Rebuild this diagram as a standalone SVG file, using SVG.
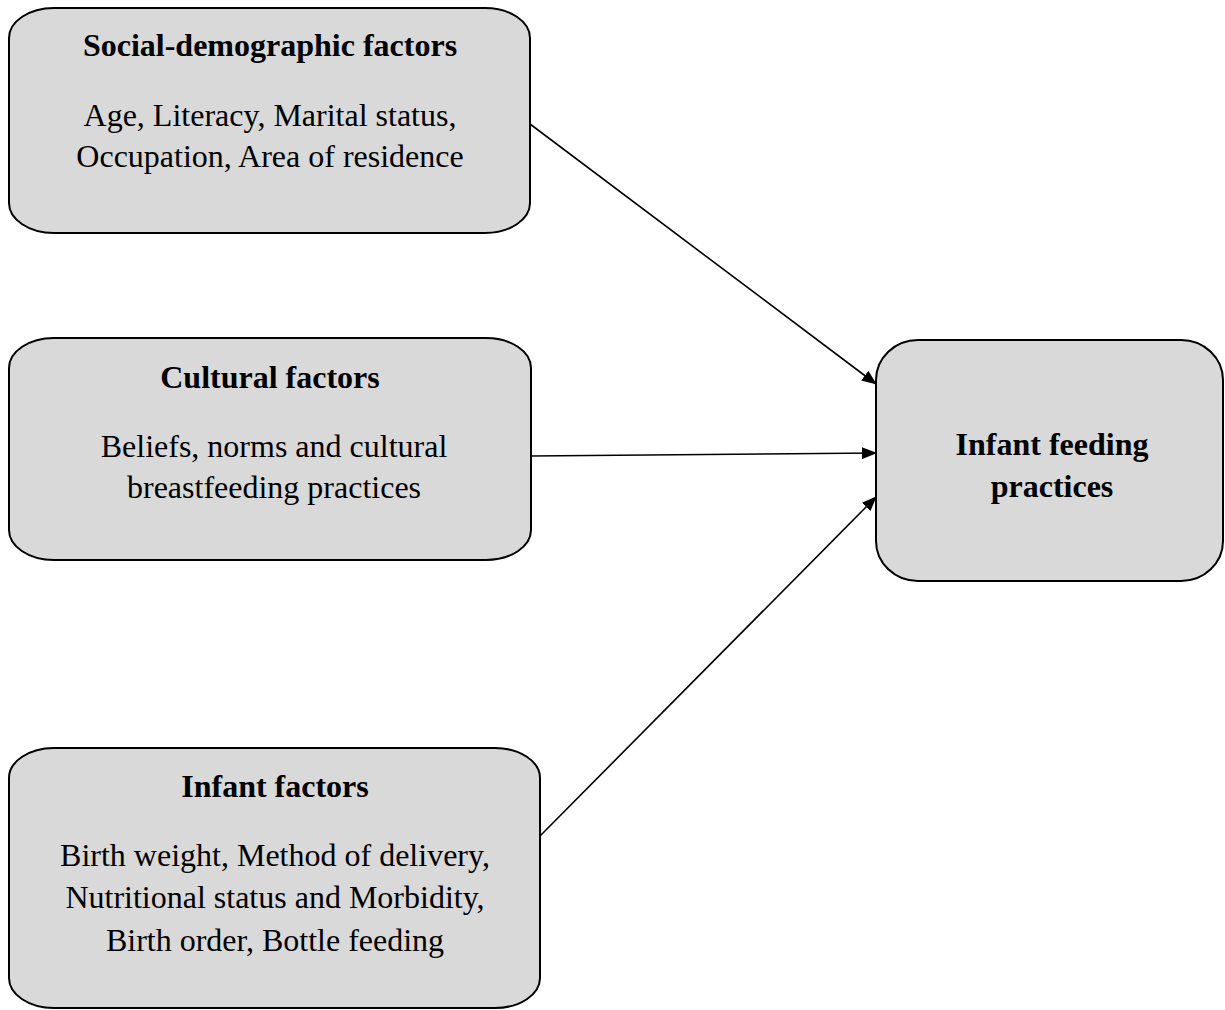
<svg xmlns="http://www.w3.org/2000/svg" width="1225" height="1010" viewBox="0 0 1225 1010">
<style>
.box{fill:#d9d9d9;stroke:#000;stroke-width:2}
.t{font-family:"Liberation Serif","Times New Roman",serif;font-size:32px;fill:#000;text-anchor:middle}
.b{font-weight:bold}
.c{stroke:#000;stroke-width:1.6;fill:none}
</style>
<defs>
<marker id="ah" markerWidth="15" markerHeight="12" refX="14" refY="6" orient="auto" markerUnits="userSpaceOnUse">
<path d="M0,0 L15,6 L0,12 Z" fill="#000"/>
</marker>
</defs>
<g id="connectors">
<line class="c" x1="530" y1="124" x2="876" y2="384" marker-end="url(#ah)"/>
<line class="c" x1="531" y1="456" x2="876" y2="453" marker-end="url(#ah)"/>
<line class="c" x1="540" y1="836" x2="876" y2="497" marker-end="url(#ah)"/>
</g>
<g id="social">
<rect class="box" x="9" y="8" width="521" height="225" rx="45" ry="30"/>
<text class="t b" x="270" y="56">Social-demographic factors</text>
<text class="t" x="270" y="126">Age, Literacy, Marital status,</text>
<text class="t" x="270" y="167">Occupation, Area of residence</text>
</g>
<g id="cultural">
<rect class="box" x="9" y="338" width="522" height="222" rx="45" ry="30"/>
<text class="t b" x="270" y="388">Cultural factors</text>
<text class="t" x="274" y="457">Beliefs, norms and cultural</text>
<text class="t" x="274" y="498">breastfeeding practices</text>
</g>
<g id="infant">
<rect class="box" x="9" y="748" width="531" height="260" rx="45" ry="30"/>
<text class="t b" x="275" y="797">Infant factors</text>
<text class="t" x="275" y="866">Birth weight, Method of delivery,</text>
<text class="t" x="275" y="908">Nutritional status and Morbidity,</text>
<text class="t" x="275" y="951">Birth order, Bottle feeding</text>
</g>
<g id="outcome">
<rect class="box" x="876" y="340" width="347" height="241" rx="42" ry="40"/>
<text class="t b" x="1052" y="455">Infant feeding</text>
<text class="t b" x="1052" y="497">practices</text>
</g>
</svg>
